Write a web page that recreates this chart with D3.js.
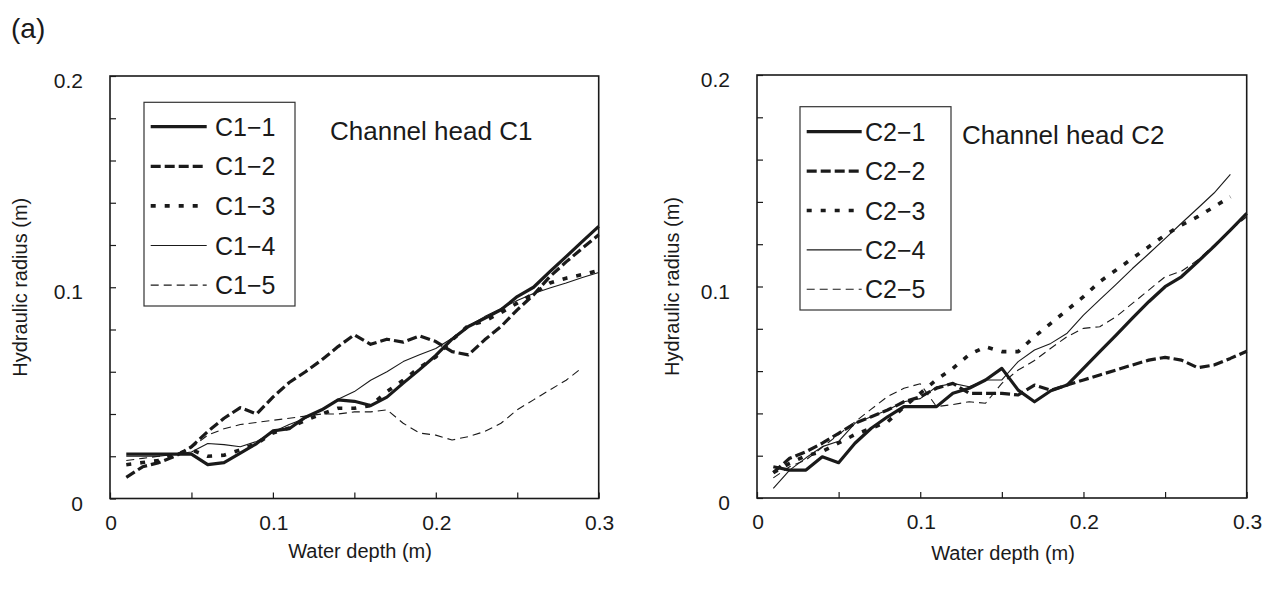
<!DOCTYPE html>
<html><head><meta charset="utf-8">
<script src="https://cdn.jsdelivr.net/npm/d3@7"></script>
<style>
html,body{margin:0;padding:0;background:#fff;}
svg{display:block;font-family:"Liberation Sans",Arial,sans-serif;}
</style></head>
<body>
<svg id="chart" width="1263" height="598"></svg>
<script>
// ---- data ----
const depth = [0.01,0.02,0.03,0.04,0.05,0.06,0.07,0.08,0.09,0.10,0.11,0.12,0.13,0.14,0.15,0.16,0.17,0.18,0.19,0.20,0.21,0.22,0.23,0.24,0.25,0.26,0.27,0.28,0.29,0.30];

const C1_1 = [0.021,0.021,0.021,0.021,0.021,0.016,0.017,0.0215,0.026,0.032,0.033,0.0385,0.042,0.0467,0.046,0.044,0.048,0.0546,0.061,0.0677,0.0754,0.0814,0.0853,0.0893,0.0956,0.100,0.1074,0.1145,0.1217,0.1288];
const C1_2 = [0.010,0.015,0.017,0.020,0.0245,0.0317,0.038,0.043,0.040,0.048,0.0549,0.060,0.0656,0.0719,0.0775,0.073,0.0754,0.074,0.077,0.0743,0.0695,0.068,0.0751,0.0814,0.0893,0.0964,0.105,0.112,0.1185,0.1248];
const C1_3 = [0.016,0.017,0.018,0.021,0.023,0.020,0.0205,0.023,0.026,0.031,0.0334,0.037,0.040,0.0427,0.0427,0.044,0.0506,0.056,0.062,0.067,0.075,0.0819,0.084,0.088,0.0925,0.097,0.102,0.1043,0.106,0.108];
const C1_4 = [0.020,0.020,0.020,0.021,0.022,0.026,0.0255,0.0245,0.027,0.0315,0.035,0.038,0.042,0.047,0.0506,0.056,0.060,0.0648,0.068,0.071,0.0759,0.0817,0.0861,0.090,0.0937,0.097,0.0996,0.102,0.1046,0.107];
const C1_5 = [0.018,0.019,0.020,0.021,0.024,0.030,0.033,0.035,0.036,0.037,0.038,0.039,0.040,0.040,0.041,0.041,0.042,0.0356,0.031,0.030,0.0277,0.0293,0.0317,0.0356,0.042,0.0467,0.0514,0.056,0.062,null];

const C2_1 = [0.0148,0.0132,0.0132,0.0195,0.0167,0.0259,0.033,0.0384,0.0432,0.0432,0.0432,0.0495,0.0519,0.0558,0.0613,0.051,0.0455,0.0507,0.0534,0.0613,0.0692,0.077,0.085,0.0928,0.0999,0.1046,0.1117,0.119,0.1267,0.1346];
const C2_2 = [0.012,0.0188,0.0219,0.0259,0.0306,0.0353,0.0384,0.0416,0.0455,0.0479,0.0519,0.0542,0.0495,0.0495,0.0495,0.0487,0.0534,0.051,0.0534,0.0558,0.0582,0.0605,0.0629,0.0652,0.0665,0.0652,0.0616,0.0629,0.066,0.0694];
const C2_3 = [0.012,0.0164,0.020,0.022,0.026,0.030,0.033,0.036,0.043,0.0495,0.056,0.0613,0.0678,0.0715,0.0692,0.0692,0.0763,0.0826,0.0889,0.0952,0.1023,0.1078,0.1133,0.1188,0.1243,0.129,0.133,0.1377,0.1424,null];
const C2_4 = [0.0046,0.0132,0.019,0.0243,0.0268,0.0353,0.0384,0.0416,0.0455,0.047,0.0526,0.0542,0.0526,0.0558,0.0558,0.0645,0.070,0.0731,0.0779,0.0865,0.0938,0.101,0.1085,0.1155,0.1226,0.1299,0.137,0.1442,0.153,null];
const C2_5 = [0.0095,0.0148,0.018,0.024,0.030,0.036,0.042,0.048,0.0519,0.054,0.0432,0.0442,0.0455,0.0448,0.0542,0.0605,0.065,0.0708,0.0763,0.0802,0.081,0.0857,0.092,0.0983,0.1046,0.1072,0.1125,0.1196,0.1267,0.133];

const namesC1 = ["C1\u22121","C1\u22122","C1\u22123","C1\u22124","C1\u22125"];
const namesC2 = ["C2\u22121","C2\u22122","C2\u22123","C2\u22124","C2\u22125"];
const xTickLabels = ["0","0.1","0.2","0.3"];
const yTickLabels = ["0","0.1","0.2"];
const xTitle = "Water depth (m)";
const yTitle = "Hydraulic radius (m)";

// ---- styles (per series index) ----
const styles = [
  {w:3.2, dash:null},
  {w:3.2, dash:"10,4"},
  {w:3.6, dash:"5,9"},
  {w:1.1, dash:null},
  {w:1.1, dash:"8,5"}
];
const ink = "#1a1a1a";

const svg = d3.select("#chart");
svg.append("text").attr("x",11).attr("y",38).attr("font-size",28).attr("fill",ink).text("(a)");

function panel(cfg){
  const x = d3.scaleLinear().domain([0,0.3]).range([cfg.left,cfg.right]);
  const y = d3.scaleLinear().domain([0,0.2]).range([cfg.bottom,cfg.top]);
  const g = svg.append("g");

  // ticks inside
  const xt = d3.axisBottom(x).tickValues(d3.range(0,0.3001,0.05)).tickSize(-6).tickFormat("");
  g.append("g").attr("transform",`translate(0,${cfg.bottom})`).call(xt)
    .call(s=>{s.select(".domain").remove(); s.selectAll("line").attr("stroke",ink).attr("stroke-width",1.2);});
  const yt = d3.axisLeft(y).tickValues(d3.range(0,0.2001,0.02)).tickSize(-6).tickFormat("");
  g.append("g").attr("transform",`translate(${cfg.left},0)`).call(yt)
    .call(s=>{s.select(".domain").remove(); s.selectAll("line").attr("stroke",ink).attr("stroke-width",1.2);});

  // tick labels
  const xVals = xTickLabels.map(Number);
  g.selectAll(".xl").data(xVals).join("text")
    .attr("x",d=>x(d)+1).attr("y",cfg.bottom+31).attr("text-anchor","middle")
    .attr("font-size",21).attr("fill",ink).text((d,i)=>xTickLabels[i]);
  const yVals = yTickLabels.map(Number);
  g.selectAll(".yl").data(yVals).join("text")
    .attr("x",cfg.left-27).attr("y",d=>y(d)+12).attr("text-anchor","end")
    .attr("font-size",21).attr("fill",ink).text((d,i)=>yTickLabels[i]);

  // titles
  g.append("text").attr("x",cfg.xtx).attr("y",cfg.xty).attr("text-anchor","middle")
    .attr("font-size",20).attr("fill",ink).text(xTitle);
  g.append("text").attr("transform",`translate(${cfg.ytx},${(cfg.top+cfg.bottom)/2}) rotate(-90)`)
    .attr("text-anchor","middle").attr("font-size",20).attr("fill",ink).text(yTitle);

  // lines
  const line = d3.line().defined(d=>d[1]!=null).x(d=>x(d[0])).y(d=>y(d[1]));
  cfg.series.forEach((s,i)=>{
    const pts = depth.map((d,j)=>[d,s[j]]);
    g.append("path").datum(pts).attr("d",line).attr("fill","none")
      .attr("stroke",ink).attr("stroke-width",styles[i].w)
      .attr("stroke-dasharray",styles[i].dash).attr("stroke-linejoin","round");
  });

  // frame
  g.append("rect").attr("x",cfg.left).attr("y",cfg.top).attr("width",cfg.right-cfg.left)
    .attr("height",cfg.bottom-cfg.top).attr("fill","none").attr("stroke",ink).attr("stroke-width",1.6);

  // legend
  const L = cfg.legend;
  g.append("rect").attr("x",L.x).attr("y",L.y).attr("width",L.w).attr("height",L.h)
    .attr("fill","#fff").attr("stroke","#333").attr("stroke-width",1.2);
  cfg.names.forEach((n,i)=>{
    const cy = L.row0 + i*L.step;
    g.append("line").attr("x1",L.lx1).attr("x2",L.lx2).attr("y1",cy).attr("y2",cy)
      .attr("stroke",ink).attr("stroke-width",styles[i].w).attr("stroke-dasharray",styles[i].dash);
    g.append("text").attr("x",L.tx).attr("y",cy+9).attr("font-size",25).attr("fill",ink).text(n);
  });
  g.append("text").attr("x",cfg.ctx).attr("y",cfg.cty).attr("font-size",26).attr("fill",ink).text(cfg.caption);
}

panel({left:110,right:598.7,top:76,bottom:498.5,
  xtx:360,xty:558,ytx:27,
  series:[C1_1,C1_2,C1_3,C1_4,C1_5],names:namesC1,
  legend:{x:144,y:102.3,w:151,h:203.7,row0:126.7,step:39.6,lx1:150.7,lx2:206.7,tx:215},
  caption:"Channel head C1",ctx:330,cty:140});

panel({left:757,right:1246.7,top:75,bottom:498,
  xtx:1003,xty:560,ytx:679,
  series:[C2_1,C2_2,C2_3,C2_4,C2_5],names:namesC2,
  legend:{x:800,y:106.7,w:151,h:203.3,row0:131.7,step:39.4,lx1:806.7,lx2:861.7,tx:865},
  caption:"Channel head C2",ctx:962,cty:144});
</script>
</body></html>
